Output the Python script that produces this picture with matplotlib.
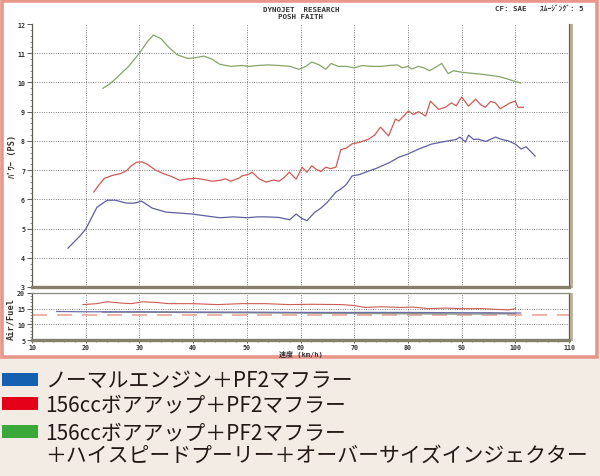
import matplotlib
matplotlib.use("Agg")
import matplotlib.pyplot as plt
from matplotlib.patches import Rectangle
from matplotlib.lines import Line2D

# ---------------- data ----------------
green_speed = [23.2, 24.5, 26, 28, 30, 31.5, 32.6, 34, 35.5, 37, 39, 40.5, 42, 43.5, 45, 47, 49, 50.5,
               52, 54, 56, 58, 59.7, 61, 62.1, 63.5, 64.7, 65.7, 67, 68.5, 70, 71.5, 73, 75, 76.5, 78,
               79, 80, 80.7, 82, 83, 84, 85, 86.3, 87.5, 88.5, 90, 91.5, 93.3, 95, 97, 98.5, 99.7, 101]
green_ps = [9.80, 9.95, 10.2, 10.55, 11.0, 11.4, 11.62, 11.5, 11.2, 10.95, 10.82, 10.85, 10.9, 10.8,
            10.62, 10.55, 10.58, 10.55, 10.58, 10.6, 10.58, 10.55, 10.45, 10.55, 10.7, 10.6, 10.45,
            10.65, 10.55, 10.55, 10.5, 10.58, 10.55, 10.55, 10.58, 10.6, 10.5, 10.55, 10.46, 10.55,
            10.5, 10.4, 10.5, 10.65, 10.3, 10.4, 10.35, 10.32, 10.29, 10.25, 10.2, 10.12, 10.05, 9.98]

red_speed = [21.5, 22.5, 23.5, 25, 26.5, 27.6, 28.5, 29.5, 30.5, 31.5, 33, 34.5, 36, 37.5, 39, 40.5,
             42, 43.5, 45, 46, 47, 48.5, 49.1, 50.4, 51, 52.3, 53.6, 55, 56, 57, 57.9, 59.2, 60.3,
             61.2, 62.1, 62.9, 63.8, 64.7, 65.6, 66.6, 67.5, 68.5, 69.6, 71, 72.7, 73.8, 74.9, 76.4,
             77.7, 78.3, 79.2, 80.1, 81, 82, 83.3, 84.2, 85.7, 87, 88.1, 89, 90, 91.3, 92.6, 93.5,
             94.4, 95.4, 96.3, 97.2, 98.1, 99, 100, 100.5, 101.5]
red_ps = [6.25, 6.5, 6.72, 6.82, 6.88, 6.98, 7.15, 7.27, 7.28, 7.2, 7.0, 6.88, 6.78, 6.65, 6.7, 6.72,
          6.68, 6.62, 6.65, 6.7, 6.62, 6.72, 6.8, 6.86, 6.93, 6.7, 6.59, 6.66, 6.62, 6.75, 6.93, 6.69,
          7.1, 6.93, 7.15, 7.03, 6.95, 7.1, 7.05, 7.1, 7.7, 7.75, 7.9, 7.95, 8.06, 8.2, 8.47, 8.17,
          8.75, 8.68, 8.85, 9.02, 8.9, 9.0, 8.85, 9.36, 9.08, 9.15, 9.3, 9.2, 9.5, 9.19, 9.43, 9.25,
          9.15, 9.35, 9.3, 9.1, 9.2, 9.3, 9.36, 9.15, 9.15]

blue_speed = [16.7, 18.9, 20, 22.1, 24, 25.5, 27.6, 29.1, 30.4, 32.4, 35, 37.5, 39.7, 42.5, 45, 47.5,
              50, 52, 53.6, 56, 58, 59.2, 60.2, 61.2, 62.6, 63.8, 65, 66.6, 67.5, 68.5, 69.6, 71,
              72.7, 74, 75.1, 76.5, 78.3, 80, 82, 84.4, 86, 87.5, 89, 89.7, 90.7, 91.3, 92.2, 93.1,
              94.5, 96.3, 97.5, 98.7, 100, 101.1, 102, 102.8, 103.7]
blue_ps = [4.33, 4.74, 4.98, 5.73, 5.97, 5.97, 5.87, 5.87, 5.94, 5.7, 5.56, 5.53, 5.5, 5.43, 5.37,
           5.4, 5.37, 5.4, 5.4, 5.38, 5.3, 5.5, 5.35, 5.27, 5.55, 5.7, 5.9, 6.25, 6.35, 6.5, 6.8,
           6.85, 6.97, 7.05, 7.14, 7.25, 7.44, 7.55, 7.72, 7.89, 7.95, 8.0, 8.05, 8.13, 7.96, 8.2,
           8.05, 8.06, 7.98, 8.13, 8.05, 8.0, 7.89, 7.72, 7.8, 7.65, 7.48]

red_af_speed = [19.5, 22, 24, 26.5, 28.5, 30.6, 33, 35.5, 40, 44.5, 49, 53.5, 57.9, 62, 67.7, 70,
                72, 75, 78.8, 81, 83.8, 87, 90, 94, 98.7, 100]
red_af = [16.3, 16.6, 17.2, 16.8, 16.6, 17.2, 17.0, 16.6, 16.6, 16.3, 16.6, 16.6, 16.3, 16.4, 16.3,
          16.0, 15.4, 15.6, 15.4, 15.5, 15.0, 15.2, 15.0, 15.0, 14.6, 15.0]

blue_af_speed = [14.6, 20, 30, 40, 50, 60, 70, 80, 90, 95, 101]
blue_af = [14.1, 14.0, 14.0, 13.9, 13.9, 13.8, 13.8, 13.8, 13.7, 13.7, 13.6]

green_af_speed = [23.2, 30, 40, 50, 60, 70, 80, 90, 100]
green_af = [13.9, 13.9, 13.8, 13.7, 13.6, 13.5, 13.4, 13.3, 13.4]

target_af = 12.9

legend_labels = ["ノーマルエンジン＋PF2マフラー",
                 "156ccボアアップ＋PF2マフラー",
                 "156ccボアアップ＋PF2マフラー\n＋ハイスピードプーリー＋オーバーサイズインジェクター"]
legend_colors = ["#1560b0", "#e50019", "#3aa93a"]

x_ticks = [10, 20, 30, 40, 50, 60, 70, 80, 90, 100, 110]
ps_ticks = [3, 4, 5, 6, 7, 8, 9, 10, 11, 12]
af_ticks = [5, 10, 15, 20]

# ---------------- figure ----------------
W, H = 600, 477
fig = plt.figure(figsize=(6.0, 4.77), dpi=100)
fig.patch.set_facecolor("#f3ece5")

def fx(px):
    return px / W

def fy(py):
    return 1 - py / H

# white chart panel with salmon border
fig.patches.append(Rectangle((fx(1.5), fy(358)), fx(595), (358 - 1.5) / H,
                             transform=fig.transFigure, facecolor="white",
                             edgecolor="#e9978b", linewidth=2.6, zorder=-5))

mono = "DejaVu Sans Mono"
tick_font = dict(family=mono, fontweight="bold", fontsize=4.8, color="#333333")

frame_col = "#5e5b50"
bottom_col = "#85806a"
shadow_col = "#b9b096"
fig.lines.append(Line2D([fx(570.5), fx(570.5)], [fy(26), fy(287)], transform=fig.transFigure,
                        color=shadow_col, lw=2.2, zorder=-1))

ax = fig.add_axes([fx(32), fy(288), fx(569 - 32), (288 - 25) / H])
ax2 = fig.add_axes([fx(32), fy(341), fx(569 - 32), (341 - 294) / H])

for a in (ax, ax2):
    a.set_facecolor("none")
    a.set_xlim(10, 109.6)
    for s in ("top", "right"):
        a.spines[s].set_visible(False)
    a.spines["left"].set_color(frame_col)
    a.spines["bottom"].set_color(bottom_col)
    a.spines["left"].set_linewidth(0.9)
    a.spines["bottom"].set_linewidth(2.4)

grid_kw = dict(color="#555555", linestyle=(0, (1, 1.8)), linewidth=0.6, zorder=1)

# main panel
ax.set_ylim(3, 12)
ax.set_yticks(ps_ticks)
ax.set_yticklabels([str(t) for t in ps_ticks], **tick_font)
ax.set_yticks([3 + i * 0.2 for i in range(46)], minor=True)
ax.tick_params(axis="y", which="major", length=3.5, width=0.7, color=frame_col, pad=1.5)
ax.tick_params(axis="y", which="minor", length=1.8, width=0.5, color=frame_col)
ax.set_xticks(x_ticks)
ax.tick_params(axis="x", which="both", length=0, labelbottom=False)
for t in x_ticks[1:-1]:
    ax.axvline(t, **grid_kw)
for t in ps_ticks[1:-1]:
    ax.axhline(t, **grid_kw)
ax.spines["right"].set_visible(True)
ax.spines["right"].set_color(frame_col)
ax.spines["right"].set_linewidth(0.8)

ax.plot(green_speed, green_ps, color="#86a469", lw=0.9, zorder=3)
ax.plot(red_speed, red_ps, color="#cc5b55", lw=0.9, zorder=3)
ax.plot(blue_speed, blue_ps, color="#5f5fa0", lw=0.9, zorder=3)

# lower panel
ax2.set_ylim(5, 20)
ax2.set_yticks(af_ticks)
ax2.set_yticklabels([str(t) for t in af_ticks], **tick_font)
ax2.set_yticks(list(range(5, 21)), minor=True)
ax2.tick_params(axis="y", which="major", length=3.5, width=0.7, color=frame_col, pad=1.5)
ax2.tick_params(axis="y", which="minor", length=1.8, width=0.5, color=frame_col)
ax2.set_xticks(x_ticks)
ax2.set_xticklabels([str(t) for t in x_ticks], **tick_font)
ax2.set_xticks(list(range(10, 111, 2)), minor=True)
ax2.tick_params(axis="x", which="major", length=2.5, width=0.7, color=frame_col, pad=0.5)
ax2.tick_params(axis="x", which="minor", length=1.5, width=0.5, color=frame_col)
for t in x_ticks[1:-1]:
    ax2.axvline(t, **grid_kw)
for t in (10, 15):
    ax2.axhline(t, **grid_kw)
ax2.spines["right"].set_visible(True)
ax2.spines["top"].set_visible(True)
ax2.spines["right"].set_color(frame_col)
ax2.spines["top"].set_color("#8d8a7e")
ax2.spines["right"].set_linewidth(0.9)
ax2.spines["top"].set_linewidth(0.9)
fig.lines.append(Line2D([fx(570.5), fx(570.5)], [fy(295), fy(340)], transform=fig.transFigure,
                        color=shadow_col, lw=2.0, zorder=-1))

ax2.axhline(target_af, color="#eaa698", lw=1.2, linestyle=(0, (9, 6)), zorder=2)
ax2.plot(green_af_speed, green_af, color="#8e9a8a", lw=1.1, zorder=3)
ax2.plot(blue_af_speed, blue_af, color="#6c6ca8", lw=0.9, zorder=3)
ax2.plot(red_af_speed, red_af, color="#cc5b55", lw=0.8, zorder=3)

# texts
hdr = dict(family=[mono, "Noto Sans CJK JP"], fontweight="bold", fontsize=5.4, color="#333333")
fig.text(fx(301), fy(10), "DYNOJET  RESEARCH", ha="center", va="center", **hdr)
fig.text(fx(301), fy(17), "POSH FAITH", ha="center", va="center", **hdr)
fig.text(fx(495), fy(9), "CF: SAE   ｽﾑｰｼﾞﾝｸﾞ: 5", ha="left", va="center", **hdr)
lab = dict(family=[mono, "Noto Sans CJK JP"], fontweight="bold", fontsize=6.2, color="#333333")
fig.text(fx(12), fy(156), "ﾊﾟﾜｰ (PS)", ha="center", va="center", rotation=90, **lab)
fig.text(fx(11), fy(319), "Air/Fuel", ha="center", va="center", rotation=90, **lab)
fig.text(fx(301), fy(354.3), "速度 (km/h)", ha="center", va="center",
         family=[mono, "Noto Sans CJK JP"], fontweight="bold", fontsize=5.0, color="#333333")

# legend
rect_y = [374, 398, 426]
text_y = [381, 405, 433]
for c, ry, ty, lab_txt in zip(legend_colors, rect_y, text_y, legend_labels):
    fig.patches.append(Rectangle((fx(2), fy(ry + 13)), fx(36), 13 / H,
                                 transform=fig.transFigure, facecolor=c, edgecolor="none"))
    for i, ln in enumerate(lab_txt.split("\n")):
        fig.text(fx(45), fy(ty + i * 23), ln, ha="left", va="center",
                 family=["Noto Sans CJK JP", "DejaVu Sans"], fontsize=15, color="#231815")

fig.savefig("out.png", dpi=100, facecolor=fig.get_facecolor())
